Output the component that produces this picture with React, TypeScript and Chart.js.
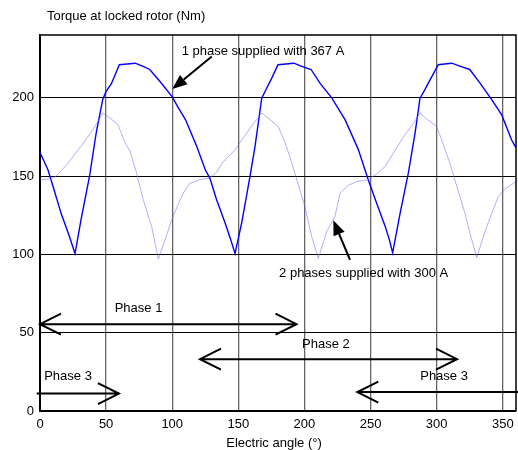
import React, { useEffect, useRef } from "react";
import { Chart, registerables } from "chart.js";

Chart.register(...registerables);

// Torque with 1 phase supplied (367 A)
const angleOnePhase = [0, 6, 10, 16, 22, 26.5, 31, 37.5, 42.5, 47.5, 50, 54, 57, 60, 66, 72, 78, 83, 88, 92, 100, 105, 110, 118.5, 125, 128.5, 133.5, 140, 144, 147.5, 152.5, 158.8, 162.6, 167.7, 171.4, 175, 180, 186, 192, 198, 205, 212, 220.5, 230.7, 240.7, 248.3, 254, 261, 264, 266.7, 272.3, 278.6, 283.6, 287.4, 291, 295, 301.2, 306, 311.4, 318, 325, 332.8, 341.6, 349.2, 356.7, 360];
const torqueOnePhase = [165, 154, 143, 126, 112, 100.5, 122, 150, 177.5, 199, 204, 209, 215, 221, 221.5, 222, 220, 218, 213, 209, 200.5, 193, 186, 169, 154, 148.5, 135, 120, 110, 100.5, 120, 149.6, 168.8, 199.7, 206, 212, 221, 221.5, 222, 220, 218, 209, 200, 186, 167, 147.5, 134, 118, 110, 101, 126, 152, 177, 199.7, 205, 211.4, 221, 221.5, 222, 220, 218, 209.3, 198.7, 189, 173, 168];

// Torque with 2 phases supplied (300 A)
const angleTwoPhases = [0, 5, 12, 21, 31, 40, 47.6, 53, 59, 64.5, 68, 73, 78, 84.5, 89.5, 94.5, 99.6, 104, 108.4, 113, 117, 122, 128, 133, 138.6, 147.5, 156.3, 162, 167.7, 174, 180.2, 185, 189, 193, 196.6, 200.4, 205.5, 210.5, 216.8, 223, 227, 233, 239.5, 247, 254, 261, 267.2, 276, 282, 287.4, 293, 300, 303, 310, 313, 317.6, 321.4, 325.2, 330.3, 337.8, 342, 346.6, 352, 360];
const torqueTwoPhases = [147.5, 148, 149.6, 158, 169, 179.5, 190, 187, 182.7, 171, 166, 152, 135, 117.6, 97, 109, 122, 131, 139, 145, 146.5, 148, 148.5, 152, 159, 166.7, 177.4, 184, 190.2, 186, 181.6, 172, 162.4, 151, 141, 130.4, 111.3, 97.4, 114.5, 124, 139, 144, 146.4, 147.5, 151, 156, 164.6, 176.3, 183, 190.2, 186, 181.6, 175, 158.2, 149.6, 136.8, 126.2, 113.4, 98, 117.6, 127, 136.8, 142, 146.4];

// Axis tick values
const xTickValues = [0, 50, 100, 150, 200, 250, 300, 350];
const yTickValues = [0, 50, 100, 150, 200];

// Conduction intervals of each phase
const phaseNames = ["Phase 1", "Phase 2", "Phase 3", "Phase 3"];
const phaseFrom = [0, 121, -2.5, 240];
const phaseTo = [194, 315.4, 59.7, 362];
const phaseLevel = [55.4, 33.1, 11.1, 12.1];
const phaseHeadStart = [true, true, false, true];
const phaseHeadEnd = [true, true, true, false];
const phaseLabelX = [74.5, 216.2, 21.2, 305.6];
const phaseLabelY = [65.5, 42.6, 22.2, 22.2];

// Callouts naming the two curves
const calloutText = ["1 phase supplied with 367 A", "2 phases supplied with 300 A"];
const calloutTextX = [107.2, 180.8];
const calloutTextY = [229.5, 87.9];
const calloutTailX = [129.9, 234.5];
const calloutTailY = [226.3, 96.4];
const calloutHeadX = [100, 221.8];
const calloutHeadY = [205.5, 121.8];

const FAMILY = 'Arial, "Liberation Sans", sans-serif';
const FONT = `13px ${FAMILY}`;
const chartTitle = "Torque at locked rotor (Nm)";
const xTitle = "Electric angle (°)";

const annotations = {
  id: "annotations",
  afterDraw(chart: any) {
    const { ctx, chartArea, scales } = chart;
    const x = scales.x;
    const y = scales.y;
    ctx.save();

    // top and right frame
    ctx.strokeStyle = "#000";
    ctx.lineWidth = 1.5;
    ctx.beginPath();
    ctx.moveTo(chartArea.left, chartArea.top);
    ctx.lineTo(chartArea.right, chartArea.top);
    ctx.lineTo(chartArea.right, chartArea.bottom);
    ctx.stroke();

    ctx.font = FONT;
    ctx.fillStyle = "#000";
    ctx.textBaseline = "middle";
    ctx.textAlign = "left";
    ctx.fillText(chartTitle, 47, 16);
    ctx.textAlign = "center";
    ctx.fillText(xTitle, 274, 443);

    // phase intervals with open arrow heads
    ctx.lineWidth = 2;
    const headLen = 21;
    const headHalf = 10.5;
    for (let i = 0; i < phaseNames.length; i++) {
      const x1 = x.getPixelForValue(phaseFrom[i]);
      const x2 = x.getPixelForValue(phaseTo[i]);
      const py = y.getPixelForValue(phaseLevel[i]);
      ctx.beginPath();
      ctx.moveTo(x1, py);
      ctx.lineTo(x2, py);
      if (phaseHeadStart[i]) {
        ctx.moveTo(x1 + headLen, py - headHalf);
        ctx.lineTo(x1, py);
        ctx.lineTo(x1 + headLen, py + headHalf);
      }
      if (phaseHeadEnd[i]) {
        ctx.moveTo(x2 - headLen, py - headHalf);
        ctx.lineTo(x2, py);
        ctx.lineTo(x2 - headLen, py + headHalf);
      }
      ctx.stroke();
      ctx.textAlign = "center";
      ctx.fillText(phaseNames[i], x.getPixelForValue(phaseLabelX[i]), y.getPixelForValue(phaseLabelY[i]));
    }

    // callouts with filled arrow heads
    for (let i = 0; i < calloutText.length; i++) {
      ctx.textAlign = "left";
      ctx.fillText(calloutText[i], x.getPixelForValue(calloutTextX[i]), y.getPixelForValue(calloutTextY[i]));
      const tx = x.getPixelForValue(calloutTailX[i]);
      const ty = y.getPixelForValue(calloutTailY[i]);
      const hx = x.getPixelForValue(calloutHeadX[i]);
      const hy = y.getPixelForValue(calloutHeadY[i]);
      const ang = Math.atan2(hy - ty, hx - tx);
      const len = 15;
      const half = 6;
      const bx = hx - len * Math.cos(ang);
      const by = hy - len * Math.sin(ang);
      ctx.lineWidth = 2;
      ctx.beginPath();
      ctx.moveTo(tx, ty);
      ctx.lineTo(bx, by);
      ctx.stroke();
      ctx.beginPath();
      ctx.moveTo(hx, hy);
      ctx.lineTo(bx - half * Math.sin(ang), by + half * Math.cos(ang));
      ctx.lineTo(bx + half * Math.sin(ang), by - half * Math.cos(ang));
      ctx.closePath();
      ctx.fill();
    }
    ctx.restore();
  },
};

export default function App() {
  const canvasRef = useRef<HTMLCanvasElement | null>(null);

  useEffect(() => {
    const canvas = canvasRef.current;
    if (!canvas) return;
    const chart = new Chart(canvas, {
      type: "line",
      data: {
        datasets: [
          {
            label: "2 phases supplied with 300 A",
            data: angleTwoPhases.map((a, i) => ({ x: a, y: torqueTwoPhases[i] })),
            borderColor: "rgba(110,110,255,0.55)",
            borderWidth: 1,
            pointRadius: 0,
            tension: 0,
          },
          {
            label: "1 phase supplied with 367 A",
            data: angleOnePhase.map((a, i) => ({ x: a, y: torqueOnePhase[i] })),
            borderColor: "#0000ff",
            borderWidth: 1.4,
            pointRadius: 0,
            tension: 0,
          },
        ],
      },
      options: {
        animation: false,
        responsive: false,
        layout: { padding: { top: 35, right: 0, left: 0, bottom: 0 } },
        plugins: { legend: { display: false }, tooltip: { enabled: false }, title: { display: false } },
        scales: {
          x: {
            type: "linear",
            min: 0,
            max: 360,
            afterBuildTicks: (scale: any) => {
              scale.ticks = xTickValues.map((v) => ({ value: v }));
            },
            afterFit: (scale: any) => {
              scale.height = 39;
              scale.paddingRight = 2;
            },
            ticks: {
              color: "#000",
              padding: 6,
              maxRotation: 0,
              autoSkip: false,
              font: { family: FAMILY, size: 13 },
            },
            grid: { color: "#666", lineWidth: 1.3, drawTicks: false },
            border: { color: "#000", width: 2 },
          },
          y: {
            type: "linear",
            min: 0,
            max: 240,
            afterBuildTicks: (scale: any) => {
              scale.ticks = yTickValues.map((v) => ({ value: v }));
            },
            afterFit: (scale: any) => {
              scale.width = 40;
            },
            ticks: {
              color: "#000",
              padding: 6,
              autoSkip: false,
              font: { family: FAMILY, size: 13 },
            },
            grid: { color: "#000", lineWidth: 1, drawTicks: false },
            border: { color: "#000", width: 2 },
          },
        },
      },
      plugins: [annotations],
    });
    return () => chart.destroy();
  }, []);

  return (
    <div style={{ position: "absolute", left: 0, top: 0, width: 518, height: 450, background: "#fff" }}>
      <canvas ref={canvasRef} width={518} height={450} style={{ display: "block" }} />
    </div>
  );
}
